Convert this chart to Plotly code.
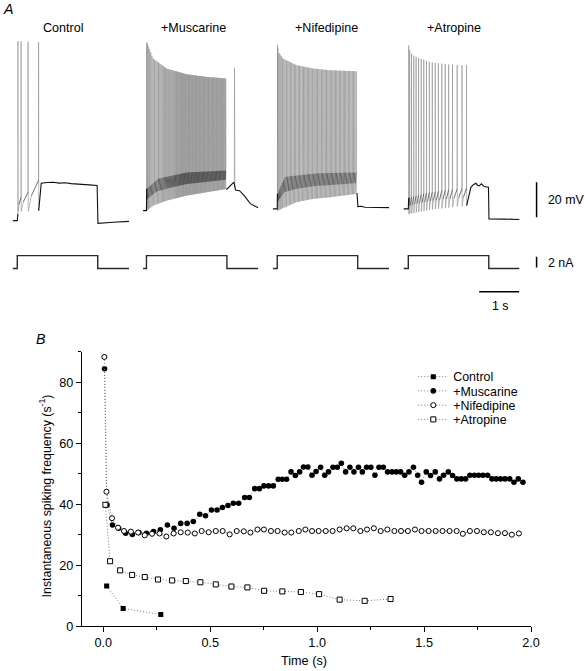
import numpy as np
import plotly.graph_objects as go

# ---------------- Panel B data: spike time (s) vs instantaneous frequency (s^-1)
ctrl_t = [0.016, 0.093, 0.269]
ctrl_f = [13.2, 5.8, 3.8]

musc_t = [0.006, 0.018, 0.043, 0.072, 0.105, 0.136, 0.167, 0.202, 0.235, 0.267,
          0.300, 0.331, 0.362, 0.392, 0.421, 0.451, 0.478, 0.506, 0.532, 0.557,
          0.583, 0.608, 0.633, 0.661, 0.683, 0.708, 0.730, 0.751, 0.773, 0.795,
          0.818, 0.837, 0.857, 0.878, 0.898, 0.918, 0.936, 0.956, 0.976, 0.995,
          1.016, 1.035, 1.053, 1.074, 1.094, 1.113, 1.133, 1.153, 1.172, 1.193,
          1.211, 1.231, 1.251, 1.270, 1.289, 1.309, 1.329, 1.350, 1.370, 1.390,
          1.409, 1.429, 1.450, 1.470, 1.488, 1.510, 1.530, 1.552, 1.572, 1.591,
          1.613, 1.633, 1.653, 1.674, 1.694, 1.714, 1.735, 1.755, 1.775, 1.797,
          1.817, 1.837, 1.857, 1.878, 1.900, 1.920, 1.940, 1.962]
musc_f = [84.4, 39.7, 33.2, 32.1, 30.5, 30.1, 30.7, 30.5, 31.0, 31.6,
          33.2, 32.1, 33.7, 33.7, 34.3, 36.7, 36.2, 38.1, 38.1, 38.9,
          39.6, 40.3, 40.3, 42.2, 42.2, 45.1, 45.1, 46.0, 46.0, 46.0,
          48.2, 48.2, 48.2, 50.6, 49.4, 50.6, 52.2, 52.2, 49.5, 50.7,
          52.1, 49.5, 50.6, 52.1, 52.1, 53.4, 50.6, 52.1, 50.6, 52.1,
          50.6, 52.1, 52.1, 49.5, 52.1, 52.1, 50.6, 50.6, 50.6, 50.6,
          49.5, 50.6, 52.1, 49.5, 47.2, 50.6, 49.4, 50.6, 48.3, 49.5,
          50.6, 49.4, 48.3, 48.3, 48.3, 49.5, 49.5, 49.5, 49.5, 49.5,
          48.3, 48.3, 48.3, 48.3, 48.3, 47.2, 48.3, 47.2]

nife_t = [0.005, 0.015, 0.041, 0.069, 0.097, 0.129, 0.163, 0.194, 0.228, 0.263,
          0.295, 0.329, 0.362, 0.395, 0.428, 0.460, 0.493, 0.526, 0.558, 0.591,
          0.624, 0.657, 0.688, 0.721, 0.751, 0.784, 0.815, 0.848, 0.879, 0.914,
          0.945, 0.976, 1.007, 1.040, 1.072, 1.105, 1.138, 1.169, 1.202, 1.233,
          1.265, 1.297, 1.328, 1.361, 1.392, 1.424, 1.457, 1.488, 1.521, 1.554,
          1.586, 1.619, 1.652, 1.681, 1.714, 1.747, 1.779, 1.812, 1.845, 1.878,
          1.910, 1.943]
nife_f = [88.3, 44.1, 35.4, 32.3, 31.2, 31.0, 30.7, 29.8, 30.3, 30.4,
          29.4, 30.4, 30.8, 30.7, 30.4, 31.2, 30.8, 31.2, 31.2, 30.1,
          31.2, 31.1, 30.7, 31.7, 31.7, 31.2, 31.2, 30.7, 30.7, 31.2,
          31.7, 31.2, 31.2, 31.2, 31.2, 31.7, 32.1, 32.1, 31.2, 31.7,
          32.1, 31.2, 31.7, 31.2, 31.2, 31.2, 31.7, 31.2, 31.2, 31.2,
          31.2, 31.2, 31.2, 30.3, 31.2, 31.2, 30.8, 30.8, 30.5, 30.5,
          30.0, 30.4]

atro_t = [0.010, 0.032, 0.079, 0.135, 0.194, 0.256, 0.322, 0.386, 0.454, 0.526,
          0.599, 0.674, 0.752, 0.837, 0.924, 1.009, 1.105, 1.222, 1.343]
atro_f = [39.8, 21.3, 18.3, 16.8, 16.1, 15.3, 15.0, 14.8, 14.4, 13.7,
          13.0, 12.7, 11.6, 11.4, 11.2, 10.5, 8.7, 8.3, 8.9]

conditions = ["Control", "+Muscarine", "+Nifedipine", "+Atropine"]
x_ticks = [0.0, 0.5, 1.0, 1.5, 2.0]
y_ticks = [0, 20, 40, 60, 80]

# ---------------- Panel A data (membrane potential, mV; time from step onset, s)
trace_start = [-0.115, -0.085, -0.11, -0.125]
trace_end = [2.8, 2.8, 2.8, 2.78]
rest_v = [-70.0, -64.3, -63.3, -63.3]
step_end = 2.015
step_amp = 2.4  # nA

# envelopes of spike peaks / after-hyperpolarisation troughs / thresholds
ctrl_peak_t, ctrl_peak_v = [0.0, 0.6], [32.3, 31.5]
ctrl_trough_t, ctrl_trough_v = [0.0, 0.6], [-64.9, -64.3]
ctrl_thr_t, ctrl_thr_v = [0.016, 0.093, 0.269, 0.532], [-66.0, -56.7, -53.8, -47.0]
ctrl_post_t = [0.60, 0.75, 0.90, 1.05, 1.20, 1.35, 1.50, 1.65, 1.80, 2.00, 2.02, 2.40, 2.80]
ctrl_post_v = [-48.7, -48.3, -48.1, -48.6, -48.4, -48.9, -49.0, -49.3, -49.6, -50.0, -71.5, -70.9, -70.4]
ctrl_extra_t, ctrl_extra_v = [], []

musc_peak_t, musc_peak_v = [0.0, 0.165, 0.5, 1.0, 1.5, 2.0], [31.9, 22.4, 16.7, 13.4, 11.9, 11.0]
musc_trough_t, musc_trough_v = [0.0, 0.165, 0.5, 1.0, 1.5, 2.0], [-64.3, -61.4, -58.6, -55.7, -53.8, -51.9]
musc_thr_t, musc_thr_v = [0.0, 0.3, 1.0, 2.0], [-52.0, -46.0, -42.6, -41.4]
musc_post_t = [2.00, 2.02, 2.19, 2.23, 2.33, 2.45, 2.60, 2.80]
musc_post_v = [-52.0, -51.9, -48.1, -52.5, -52.9, -55.7, -60.3, -62.7]
musc_extra_t, musc_extra_v = [2.205], [17.0]

nife_peak_t, nife_peak_v = [0.0, 0.03, 0.14, 0.475, 0.89, 1.31, 2.0], [31.0, 26.0, 22.4, 18.6, 16.7, 15.7, 15.1]
nife_trough_t, nife_trough_v = [0.0, 0.475, 0.89, 1.31, 2.0], [-64.3, -59.5, -57.6, -56.7, -54.7]
nife_thr_t, nife_thr_v = [0.0, 0.2, 1.0, 2.0], [-55.0, -45.0, -43.0, -42.5]
nife_post_t = [2.00, 2.02, 2.10, 2.20, 2.40, 2.80]
nife_post_v = [-54.7, -62.0, -61.8, -62.4, -62.6, -62.6]
nife_extra_t, nife_extra_v = [], []

atro_peak_t, atro_peak_v = [0.0, 0.04, 0.11, 0.28, 0.53, 0.94, 1.27, 1.47], [31.0, 26.2, 24.3, 22.4, 20.5, 19.1, 18.6, 18.6]
atro_trough_t, atro_trough_v = [0.0, 0.5, 1.0, 1.47], [-66.2, -64.0, -62.6, -61.4]
atro_thr_t, atro_thr_v = [0.0, 0.5, 1.0, 1.47], [-57.0, -54.0, -52.5, -51.5]
atro_post_t = [1.49, 1.567, 1.63, 1.692, 1.735, 1.775, 1.833, 1.90, 2.008, 2.02, 2.40, 2.78]
atro_post_v = [-58.6, -51.0, -49.5, -48.7, -49.8, -50.2, -49.0, -50.6, -51.0, -69.0, -69.1, -69.3]
atro_extra_t, atro_extra_v = [], []

# ---------------- layout geometry (reference pixels of the 585 x 671 page)
W, H = 585, 671
S = 593 / 585          # the page is photographed slightly reduced; compensate
def fx(p):
    return p / W
def fy(p):
    return 1 - p / H
def fs(size):
    return size * S

fig = go.Figure()

# ---------------- Panel A traces
def spike_times(t, f):
    return list(t) + [t[-1] + 1.0 / f[-1]]

def build_trace(i, spk, pk_t, pk_v, tr_t, tr_v, th_t, th_v, post_t, post_v, ex_t, ex_v):
    """Return spike segments (gray), interspike ramps (dark) and baseline parts (black)."""
    spk = np.asarray(spk)
    pk = np.interp(spk, pk_t, pk_v)
    tr = np.interp(spk, tr_t, tr_v)
    th = np.interp(spk, th_t, th_v)
    gx, gy, rx, ry = [], [], [], []
    bx, by = [trace_start[i], 0.0, spk[0], None], [rest_v[i], rest_v[i], th[0], None]
    n = len(spk)
    for k, s in enumerate(spk):
        gx += [s, s + 0.0015, s + 0.005]
        gy += [th[k], pk[k], tr[k]]
        if k < n - 1:
            isi = spk[k + 1] - s
            mt = s + 0.005 + 0.3 * isi
            mv = tr[k] + 0.5 * (th[k + 1] - tr[k])
            gx += [mt, None]
            gy += [mv, None]
            rx += [mt, spk[k + 1], None]
            ry += [mv, th[k + 1], None]
        else:
            gx += [None]
            gy += [None]
            bx += [s + 0.005] + list(post_t)
            by += [tr[k]] + list(post_v)
    for et, ev in zip(ex_t, ex_v):
        v0 = float(np.interp(et - 0.005, post_t, post_v))
        v1 = float(np.interp(et + 0.01, post_t, post_v))
        gx += [et - 0.005, et, et + 0.01, None]
        gy += [v0, ev, v1, None]
    return (gx, gy), (rx, ry), (bx, by)

panelA = [
    (ctrl_t, ctrl_f, ctrl_peak_t, ctrl_peak_v, ctrl_trough_t, ctrl_trough_v, ctrl_thr_t, ctrl_thr_v, ctrl_post_t, ctrl_post_v, ctrl_extra_t, ctrl_extra_v),
    (musc_t, musc_f, musc_peak_t, musc_peak_v, musc_trough_t, musc_trough_v, musc_thr_t, musc_thr_v, musc_post_t, musc_post_v, musc_extra_t, musc_extra_v),
    (nife_t, nife_f, nife_peak_t, nife_peak_v, nife_trough_t, nife_trough_v, nife_thr_t, nife_thr_v, nife_post_t, nife_post_v, nife_extra_t, nife_extra_v),
    (atro_t, atro_f, atro_peak_t, atro_peak_v, atro_trough_t, atro_trough_v, atro_thr_t, atro_thr_v, atro_post_t, atro_post_v, atro_extra_t, atro_extra_v),
]

A_onset_px = [17.3, 146.7, 277.7, 409.0]
A_tmin, A_tmax = -0.12, 2.8
px_per_s = 40.0

for i, d in enumerate(panelA):
    t, f = d[0], d[1]
    spk = spike_times(t, f)
    (gx, gy), (rx, ry), (bx, by) = build_trace(i, spk, *d[2:])
    xa = "x%d" % (i + 2)
    fig.add_trace(go.Scatter(x=gx, y=gy, mode="lines", xaxis=xa, yaxis="y2",
                             line=dict(color="#8f8f8f", width=0.6), showlegend=False,
                             hoverinfo="skip", connectgaps=False))
    fig.add_trace(go.Scatter(x=rx, y=ry, mode="lines", xaxis=xa, yaxis="y2",
                             line=dict(color="#333333", width=0.7), showlegend=False,
                             hoverinfo="skip", connectgaps=False))
    fig.add_trace(go.Scatter(x=bx, y=by, mode="lines", xaxis=xa, yaxis="y2",
                             line=dict(color="#111111", width=1.1), showlegend=False,
                             hoverinfo="skip", connectgaps=False))
    # current step
    cx = [trace_start[i], 0.0, 0.0, step_end, step_end, trace_end[i]]
    cy = [0.0, 0.0, step_amp, step_amp, 0.0, 0.0]
    fig.add_trace(go.Scatter(x=cx, y=cy, mode="lines", xaxis=xa, yaxis="y3",
                             line=dict(color="#2a2a2a", width=1.4), showlegend=False,
                             hoverinfo="skip"))

# ---------------- Panel B traces (one small legend per series, stacked like the original)
series_B = [
    ("Control", ctrl_t, ctrl_f, dict(symbol="square", size=fs(5), color="black")),
    ("+Muscarine", musc_t, musc_f, dict(symbol="circle", size=fs(5.5), color="black")),
    ("+Nifedipine", nife_t, nife_f, dict(symbol="circle", size=fs(5), color="white", line=dict(color="black", width=1))),
    ("+Atropine", atro_t, atro_f, dict(symbol="square", size=fs(5), color="white", line=dict(color="black", width=1))),
]
legend_ids = ["legend", "legend2", "legend3", "legend4"]
legend_rows_px = [376, 390.2, 404.4, 418.6]
for (name, t, f, mk), lid in zip(series_B, legend_ids):
    fig.add_trace(go.Scatter(x=t, y=f, name=name, mode="lines+markers",
                             line=dict(color="#777", width=1, dash="1px,2px"),
                             marker=mk, xaxis="x", yaxis="y", legend=lid))

# ---------------- axes
font = "Liberation Sans, Arial, sans-serif"
layout_axes = {}
for i in range(4):
    x0 = A_onset_px[i] + A_tmin * px_per_s
    x1 = x0 + (A_tmax - A_tmin) * px_per_s
    layout_axes["xaxis%d" % (i + 2)] = dict(domain=[fx(x0), fx(x1)], range=[A_tmin, A_tmax],
                                            visible=False, anchor="y2")
for lid, ypx in zip(legend_ids, legend_rows_px):
    layout_axes[lid] = dict(x=fx(414), y=fy(ypx), xanchor="left", yanchor="middle",
                            font=dict(size=fs(12.2)), itemwidth=30,
                            bgcolor="rgba(0,0,0,0)", borderwidth=0)

# voltage: 1.75 px per mV, -70 mV at y=220 px
v_top = -70 + (220 - 30) / 1.75
v_bot = -70 + (220 - 230) / 1.75
# current: 5.35 px per nA, 0 nA at y=267.7 px
i_top = (267.7 - 250) / 5.35
i_bot = (267.7 - 272) / 5.35

fig.update_layout(
    width=round(W * S), height=round(H * S),
    margin=dict(l=0, r=0, t=0, b=0),
    paper_bgcolor="white", plot_bgcolor="rgba(0,0,0,0)",
    font=dict(family=font, size=fs(12), color="black"),
    xaxis=dict(domain=[fx(82), fx(532)], range=[-0.1, 2.0], tickvals=x_ticks,
               ticktext=["%.1f" % v for v in x_ticks],
               showline=True, linecolor="black", linewidth=1, ticks="outside",
               ticklen=fs(5), tickcolor="black", showgrid=False, zeroline=False,
               minor=dict(dtick=0.25, tick0=0, ticks="outside", ticklen=fs(3), tickcolor="black"),
               tickfont=dict(size=fs(12.5)), anchor="y"),
    yaxis=dict(domain=[fy(624.3), fy(350.7)], range=[0, 90], tickvals=y_ticks,
               showline=True, linecolor="black", linewidth=1, ticks="outside",
               ticklen=fs(5), tickcolor="black", showgrid=False, zeroline=False,
               minor=dict(dtick=10, tick0=0, ticks="outside", ticklen=fs(3), tickcolor="black"),
               tickfont=dict(size=fs(12.5)), anchor="x"),
    yaxis2=dict(domain=[fy(230), fy(30)], range=[v_bot, v_top], visible=False, anchor="x2"),
    yaxis3=dict(domain=[fy(272), fy(250)], range=[i_bot, i_top], visible=False, anchor="x2"),
    **layout_axes,
)

# ---------------- scale bars
fig.add_shape(type="line", xref="paper", yref="y2", x0=fx(537.5), x1=fx(537.5),
              y0=-68.1, y1=-48.1, line=dict(color="black", width=1.5))
fig.add_shape(type="line", xref="paper", yref="y3", x0=fx(537.5), x1=fx(537.5),
              y0=0.2, y1=2.2, line=dict(color="black", width=1.5))
fig.add_shape(type="line", xref="x5", yref="paper", x0=1.775, x1=2.775,
              y0=fy(291), y1=fy(291), line=dict(color="black", width=1.5))

annots = [
    dict(text="20 mV", x=fx(547), y=fy(199), xanchor="left", yanchor="middle", font=dict(size=fs(12.2))),
    dict(text="2 nA", x=fx(547), y=fy(262), xanchor="left", yanchor="middle", font=dict(size=fs(12.2))),
    dict(text="1 s", x=fx(501), y=fy(305), xanchor="center", yanchor="middle", font=dict(size=fs(12.2))),
    dict(text="A", x=fx(1), y=fy(9), xanchor="left", yanchor="middle", font=dict(size=fs(14), style="italic")),
    dict(text="B", x=fx(34), y=fy(338), xanchor="left", yanchor="middle", font=dict(size=fs(14), style="italic")),
    dict(text="Time (s)", x=fx(305), y=fy(659), xanchor="center", yanchor="middle", font=dict(size=fs(12.5))),
    dict(text="Instantaneous spiking frequency (s<sup>-1</sup>)", x=fx(46), y=fy(494),
         xanchor="center", yanchor="middle", textangle=-90, font=dict(size=fs(12.2))),
]
title_px = [63, 194, 327, 455]
for name, xp in zip(conditions, title_px):
    annots.append(dict(text=name, x=fx(xp), y=fy(28), xanchor="center", yanchor="middle",
                       font=dict(size=fs(12.4))))
for a in annots:
    a.update(xref="paper", yref="paper", showarrow=False)
    fig.add_annotation(**a)

fig.write_html("out.html", config={"displayModeBar": False},
               post_script="document.body.style.margin='0';document.body.style.overflow='hidden';")
